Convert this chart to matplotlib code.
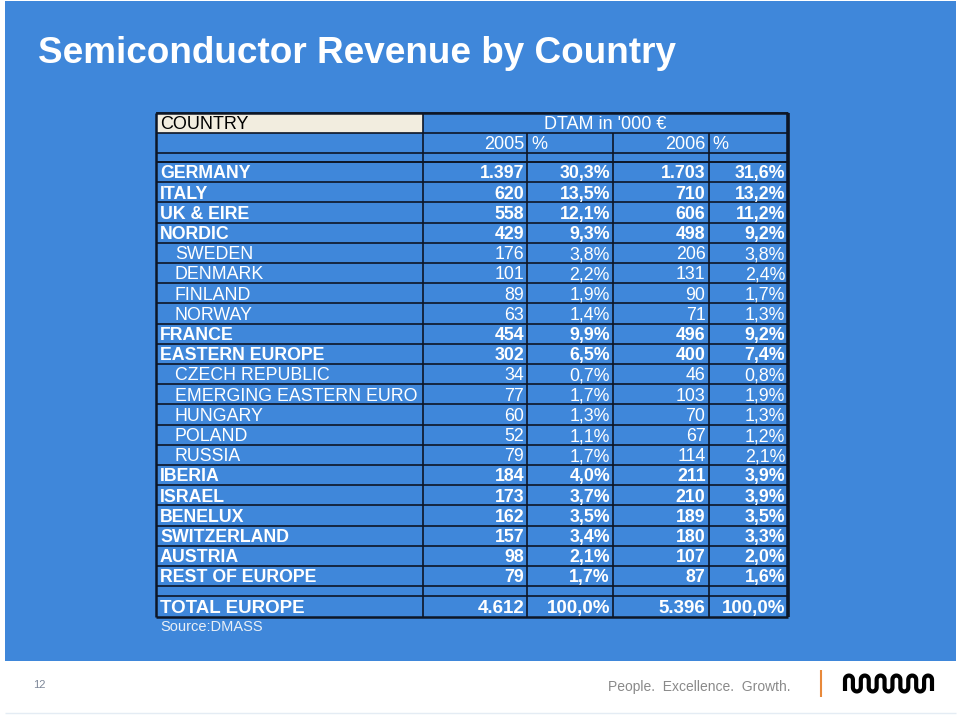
import numpy as np
import matplotlib
matplotlib.use("Agg")
import matplotlib.pyplot as plt
from matplotlib.patches import Rectangle

# ---------------- data ----------------
countries = ["GERMANY", "ITALY", "UK & EIRE", "NORDIC", "SWEDEN", "DENMARK",
             "FINLAND", "NORWAY", "FRANCE", "EASTERN EUROPE", "CZECH REPUBLIC",
             "EMERGING EASTERN EURO", "HUNGARY", "POLAND", "RUSSIA", "IBERIA",
             "ISRAEL", "BENELUX", "SWITZERLAND", "AUSTRIA", "REST OF EUROPE"]
is_sub = [0, 0, 0, 0, 1, 1, 1, 1, 0, 0, 1, 1, 1, 1, 1, 0, 0, 0, 0, 0, 0]
rev_2005 = [1397, 620, 558, 429, 176, 101, 89, 63, 454, 302, 34, 77, 60, 52, 79,
            184, 173, 162, 157, 98, 79]
pct_2005 = [30.3, 13.5, 12.1, 9.3, 3.8, 2.2, 1.9, 1.4, 9.9, 6.5, 0.7, 1.7, 1.3, 1.1,
            1.7, 4.0, 3.7, 3.5, 3.4, 2.1, 1.7]
rev_2006 = [1703, 710, 606, 498, 206, 131, 90, 71, 496, 400, 46, 103, 70, 67, 114,
            211, 210, 189, 180, 107, 87]
pct_2006 = [31.6, 13.2, 11.2, 9.2, 3.8, 2.4, 1.7, 1.3, 9.2, 7.4, 0.8, 1.9, 1.3, 1.2,
            2.1, 3.9, 3.9, 3.5, 3.3, 2.0, 1.6]
total_label = "TOTAL EUROPE"
total_2005 = 4612
total_2006 = 5396
total_pct = 100.0
title = "Semiconductor Revenue by Country"
header_country = "COUNTRY"
header_unit = "DTAM in '000 \u20ac"
years = ["2005", "2006"]
source = "Source:DMASS"
page_no = "12"
slogan = "People.  Excellence.  Growth."


def fmt_int(v):
    return f"{v:,}".replace(",", ".")


def fmt_pct(v):
    return f"{v:.1f}%".replace(".", ",")


# ---------------- styling ----------------
BLUE = "#3F87DA"
LINE = "#0D1626"
BEIGE = "#F2EDDF"
FONT = "Liberation Sans"

fig = plt.figure(figsize=(9.6, 7.16), dpi=100)
ax = fig.add_axes([0, 0, 1, 1])
ax.set_xlim(0, 960)
ax.set_ylim(716, 0)
ax.axis("off")

# slide background
ax.add_patch(Rectangle((5, 1), 951, 660, facecolor=BLUE, edgecolor="none"))
ax.hlines(713, 5, 956, color="#E4ECF4", lw=1)

ax.text(38, 63, title, fontsize=26.6, fontweight="bold", color="white",
        family=FONT, va="baseline", ha="left")

# table geometry
x_cols = [155.5, 423, 527, 613, 708.5, 788]
top = 112.5
h_hdr = [20, 20, 9.5]
row_h = 20.2
y_hdr = np.cumsum([top] + h_hdr)
y0 = y_hdr[-1]
n = len(countries)
y_rows = y0 + np.arange(n + 1) * row_h
y_blank_end = y_rows[-1] + 9.5
y_total_end = y_blank_end + 21.5
bottom = y_total_end

# beige header cell
ax.add_patch(Rectangle((x_cols[0], top), x_cols[1] - x_cols[0], h_hdr[0],
                       facecolor=BEIGE, edgecolor="none"))

# horizontal lines
hl = list(y_hdr) + list(y_rows) + [y_blank_end]
ax.hlines(hl, x_cols[0], x_cols[-1], color=LINE, lw=1.2)
ax.hlines([top, bottom], x_cols[0], x_cols[-1], color=LINE, lw=1.8)
# vertical lines
ax.vlines(x_cols[1], top, bottom, color=LINE, lw=1.2)
ax.vlines(x_cols[2:5], y_hdr[1], bottom, color=LINE, lw=1.2)
ax.vlines(x_cols[0], top, bottom, color=LINE, lw=1.8)
ax.vlines(x_cols[-1], top, bottom, color=LINE, lw=2.6)

FS = 12.8
cap = FS * 100 / 72 * 0.716 / 2


def put(x, yc, s, ha="left", bold=False, color="white", fs=FS):
    ax.text(x, yc + cap * fs / FS, s, fontsize=fs, family=FONT,
            fontweight="bold" if bold else "normal", color=color,
            ha=ha, va="baseline")


# header texts
put(160, (y_hdr[0] + y_hdr[1]) / 2, header_country, color="black", fs=13)
put((x_cols[1] + x_cols[-1]) / 2, (y_hdr[0] + y_hdr[1]) / 2, header_unit,
    ha="center", fs=13)
yc2 = (y_hdr[1] + y_hdr[2]) / 2
put(x_cols[2] - 3, yc2, years[0], ha="right", fs=13)
put(x_cols[2] + 4, yc2, "%", fs=13)
put(x_cols[4] - 3, yc2, years[1], ha="right", fs=13)
put(x_cols[4] + 4, yc2, "%", fs=13)

# data rows
for i, name in enumerate(countries):
    yc = (y_rows[i] + y_rows[i + 1]) / 2
    b = not is_sub[i]
    put(160 if b else 175, yc, name, bold=b)
    put(x_cols[2] - 3, yc, fmt_int(rev_2005[i]), ha="right", bold=b)
    put(x_cols[3] - 3, yc, fmt_pct(pct_2005[i]), ha="right", bold=b)
    put(x_cols[4] - 3, yc, fmt_int(rev_2006[i]), ha="right", bold=b)
    put(x_cols[5] - 3, yc, fmt_pct(pct_2006[i]), ha="right", bold=b)

yc = (y_blank_end + y_total_end) / 2
put(160, yc, total_label, bold=True, fs=13.5)
put(x_cols[2] - 3, yc, fmt_int(total_2005), ha="right", bold=True, fs=13.5)
put(x_cols[3] - 3, yc, fmt_pct(total_pct), ha="right", bold=True, fs=13.5)
put(x_cols[4] - 3, yc, fmt_int(total_2006), ha="right", bold=True, fs=13.5)
put(x_cols[5] - 3, yc, fmt_pct(total_pct), ha="right", bold=True, fs=13.5)

ax.text(160, 631, source, fontsize=10.5, family=FONT, color="#E9EFF6",
        ha="left", va="baseline")

# footer
ax.text(33, 688, page_no, fontsize=8, family=FONT, color="#7D8798",
        ha="left", va="baseline")
ax.text(790, 691, slogan, fontsize=10, family=FONT, color="#8A8A8A",
        ha="right", va="baseline")
ax.vlines(821, 670, 697, color="#E8893A", lw=1.5)

# logo: meander squiggle
xs_stem = np.linspace(845, 932, 12)
r = (xs_stem[1] - xs_stem[0]) / 2
ytop, ybot = 679.5, 687.5
px, py = [xs_stem[0]], [ybot + 3.5]
for k in range(len(xs_stem) - 1):
    xa = xs_stem[k]
    t = np.linspace(np.pi, 0, 12)
    if k % 2 == 0:
        px += list(xa + r + r * np.cos(t))
        py += list(ytop - r * np.sin(t))
    else:
        px += list(xa + r + r * np.cos(t))
        py += list(ybot + r * np.sin(t))
px.append(xs_stem[-1])
py.append(ybot + 3.5)
ax.plot(px, py, color="black", lw=3.0, solid_joinstyle="round",
        solid_capstyle="butt")

fig.savefig("out.png", dpi=100)
